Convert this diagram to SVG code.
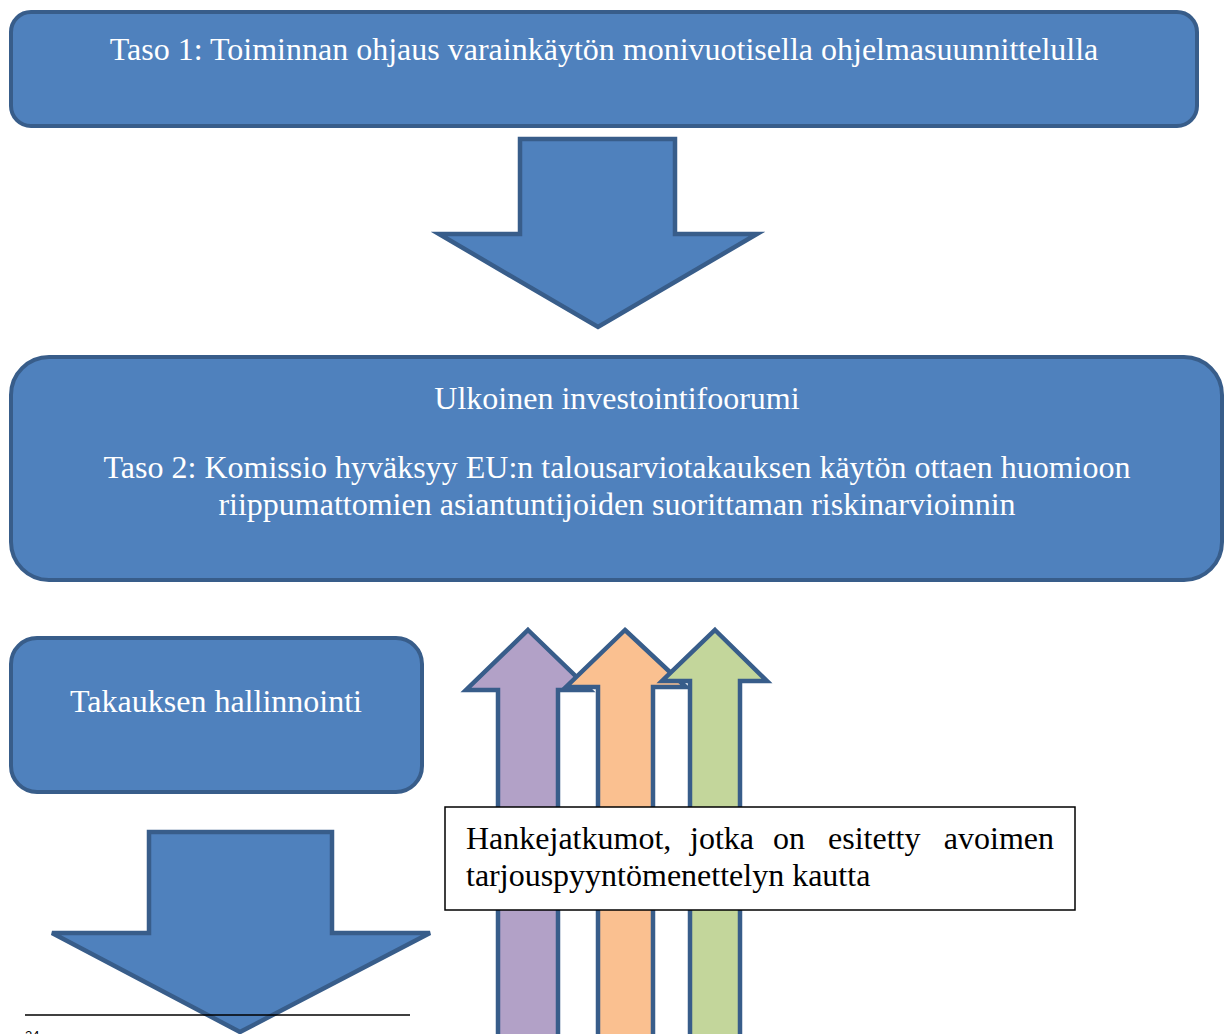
<svg xmlns="http://www.w3.org/2000/svg" width="1224" height="1034" viewBox="0 0 1224 1034">
<style>
.box{fill:#4f81bd;stroke:#385d8a;stroke-width:4}
.arr{stroke:#385d8a;stroke-width:4.5;stroke-linejoin:miter}
.wt{font-family:"Liberation Serif","Times New Roman",serif;font-size:32px;fill:#ffffff;text-anchor:middle}
.bt{font-family:"Liberation Serif","Times New Roman",serif;font-size:32px;fill:#000000}
</style>
<rect width="1224" height="1034" fill="#ffffff"/>
<g id="connectors">
<polygon id="arrow-down-1" class="arr" fill="#4f81bd" points="520,139 675,139 675,234 757,234 598,327 439,234 520,234"/>
<polygon id="arrow-down-2" class="arr" fill="#4f81bd" points="149,832 332,832 332,933 430,933 240,1032 52,933 149,933"/>
<polygon id="arrow-up-purple" class="arr" fill="#b2a1c7" points="528,630 590,690 558,690 558,1045 498,1045 498,690 466,690"/>
<polygon id="arrow-up-orange" class="arr" fill="#fac090" points="625,630 686,687 653,687 653,1045 598,1045 598,687 566,687"/>
<polygon id="arrow-up-green" class="arr" fill="#c3d69b" points="715,630 767,681 740,681 740,1045 690,1045 690,681 662,681"/>
</g>
<g id="node-taso1">
<rect class="box" x="11" y="12" width="1186" height="114" rx="20" ry="20"/>
<text class="wt" x="604" y="60">Taso 1: Toiminnan ohjaus varainkäytön monivuotisella ohjelmasuunnittelulla</text>
</g>
<g id="node-taso2">
<rect class="box" x="11" y="357" width="1211" height="223" rx="38" ry="38"/>
<text class="wt" x="617" y="409">Ulkoinen investointifoorumi</text>
<text class="wt" x="617" y="478">Taso 2: Komissio hyväksyy EU:n talousarviotakauksen käytön ottaen huomioon</text>
<text class="wt" x="617" y="515">riippumattomien asiantuntijoiden suorittaman riskinarvioinnin</text>
</g>
<g id="node-takaus">
<rect class="box" x="11" y="638" width="411" height="154" rx="26" ry="26"/>
<text class="wt" x="216" y="712">Takauksen hallinnointi</text>
</g>
<g id="node-hanke">
<rect x="445" y="807" width="630" height="103" fill="#ffffff" stroke="#000000" stroke-width="1.5"/>
<text class="bt" y="849"><tspan x="466">Hankejatkumot,</tspan><tspan x="690">jotka</tspan><tspan x="773">on</tspan><tspan x="828">esitetty</tspan><tspan x="1054" text-anchor="end">avoimen</tspan></text>
<text class="bt" x="466" y="886">tarjouspyyntömenettelyn kautta</text>
</g>
<g id="footnote">
<line x1="25" y1="1015" x2="410" y2="1015" stroke="#000000" stroke-width="1.5"/>
<text x="25" y="1040" font-family="Liberation Sans, Arial, sans-serif" font-size="13" fill="#000000">24</text>
</g>
</svg>
